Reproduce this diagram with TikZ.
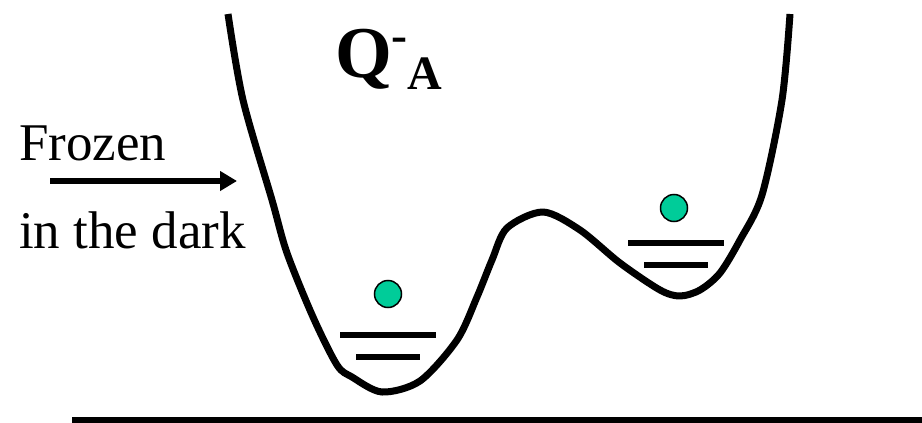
\documentclass[tikz,border=0pt]{standalone}
\usepackage{fontspec}
\setmainfont{Liberation Serif}
\usetikzlibrary{arrows.meta}
\definecolor{ballgreen}{HTML}{00CC99}

\begin{document}
\begin{tikzpicture}[
    x=1pt, y=-1pt,
    well/.style={line width=7pt, line join=round},
    level/.style={line width=6pt},
    ball/.style={circle, draw, line width=1.5pt, fill=ballgreen, minimum size=27pt, inner sep=0pt},
    lbl/.style={inner sep=0pt, anchor=base west, font=\fontsize{53}{60}\selectfont},
    arr/.style={-{Triangle[length=17pt, width=19pt]}, line width=6pt}
  ]
    \useasboundingbox (0,0) rectangle (922,423);

    \draw[well] plot[smooth, tension=0.5] coordinates {
      (228,14) (243,100) (272,200) (287,253) (313,317) (337,365)
      (352,377) (382,392) (420,381) (457,340) (477,297) (492,260)
      (507,228) (543,212) (580,230) (620,263) (660,290) (680,296)
      (700,290) (720,273) (740,240) (762,195) (782,100) (790,14)};

    \draw[level] (340,335) -- (436,335);
    \draw[level] (356,357) -- (420,357);
    \draw[level] (628,243) -- (724,243);
    \draw[level] (644,265) -- (708,265);

    \node[ball] (ballL) at (388,294) {};
    \node[ball] (ballR) at (674,208) {};

    \draw[level] (72,420) -- (922,420);

    \node[lbl] (frozen) at (19,160) {Frozen};
    \node[lbl] (dark) at (19,248) {in the dark};
    \node[inner sep=0pt, anchor=base west, font=\fontsize{73}{80}\selectfont\bfseries] (qa) at (335,77)
      {Q\raisebox{26pt}{\fontsize{48}{50}\selectfont -}\raisebox{-12pt}{\fontsize{48}{50}\selectfont A}};

    \coordinate (arrS) at (50,181);
    \coordinate (arrE) at (237,181);
    \draw[arr] (arrS) -- (arrE);
  \end{tikzpicture}
\end{document}
